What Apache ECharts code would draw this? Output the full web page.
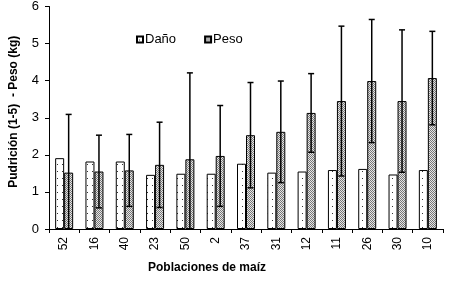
<!DOCTYPE html>
<html>
<head>
<meta charset="utf-8">
<script src="https://cdn.jsdelivr.net/npm/echarts@6/dist/echarts.min.js"></script>
<style>
  html, body { margin: 0; padding: 0; background: #fff; }
  #chart { width: 450px; height: 286px; }
</style>
</head>
<body>
<div id="chart"></div>
<script>
const categories = ['52', '16', '40', '23', '50', '2', '37', '31', '12', '11', '26', '30', '10'];
const dano = [1.91, 1.82, 1.82, 1.46, 1.49, 1.49, 1.76, 1.52, 1.55, 1.59, 1.62, 1.47, 1.59];
const peso = [1.52, 1.55, 1.58, 1.73, 1.88, 1.97, 2.53, 2.62, 3.13, 3.45, 3.99, 3.45, 4.07];
const pesoSd = [1.57, 0.98, 0.97, 1.15, 2.33, 1.36, 1.42, 1.37, 1.06, 2.02, 1.66, 1.92, 1.26];
const yTicks = [0, 1, 2, 3, 4, 5, 6];

const font = 'Arial, "Liberation Sans", sans-serif';
const barW = 9;

// fill patterns
function danoPattern() {
  const c = document.createElement('canvas');
  c.width = 5; c.height = 7;
  const g = c.getContext('2d');
  g.fillStyle = '#fff';
  g.fillRect(0, 0, 5, 7);
  g.fillStyle = '#333';
  g.fillRect(2, 3, 1, 1);
  return c;
}
function pesoPattern() {
  const c = document.createElement('canvas');
  c.width = 2; c.height = 2;
  const g = c.getContext('2d');
  g.fillStyle = '#e6e6e6';
  g.fillRect(0, 0, 2, 2);
  g.fillStyle = '#777';
  g.fillRect(0, 0, 1, 1);
  g.fillRect(1, 1, 1, 1);
  return c;
}

const errData = peso.map((v, i) => [i, Math.max(0, v - pesoSd[i]), v + pesoSd[i]]);

const myChart = echarts.init(document.getElementById('chart'));
myChart.setOption({
  animation: false,
  grid: { left: 47, right: 7, top: 6, bottom: 57 },
  legend: {
    left: 131,
    top: 28,
    icon: 'rect',
    itemWidth: 6,
    itemHeight: 6,
    itemGap: 28,
    data: ['Daño', 'Peso'],
    textStyle: { fontFamily: font, fontSize: 13, color: '#000', padding: [0, 0, 0, -3] }
  },
  xAxis: {
    type: 'category',
    data: categories,
    axisLine: { lineStyle: { color: '#000', width: 1 } },
    axisTick: { show: true, length: 4, lineStyle: { color: '#000' } },
    axisLabel: { rotate: 90, color: '#000', fontFamily: font, fontSize: 12, margin: 8 }
  },
  yAxis: {
    type: 'value',
    min: yTicks[0],
    max: yTicks[yTicks.length - 1],
    interval: 1,
    splitLine: { show: false },
    axisLine: { show: true, lineStyle: { color: '#000', width: 1 } },
    axisTick: { show: true, length: 4, lineStyle: { color: '#000' } },
    axisLabel: { color: '#000', fontFamily: font, fontSize: 13, margin: 10 },
    name: 'Pudrición (1-5)  - Peso (kg)',
    nameLocation: 'middle',
    nameGap: 29,
    nameTextStyle: { fontFamily: font, fontSize: 12, fontWeight: 'bold', color: '#000', padding: [0, 0, 0, 12] }
  },
  graphic: [{
    type: 'text',
    left: 148,
    top: 262,
    style: { text: 'Poblaciones de maíz', font: 'bold 12px ' + font, fill: '#000' }
  }],
  series: [
    {
      name: 'Daño',
      type: 'bar',
      barWidth: barW,
      barGap: '0%',
      itemStyle: { color: { image: danoPattern(), repeat: 'repeat' }, borderColor: '#000', borderWidth: 1 },
      data: dano
    },
    {
      name: 'Peso',
      type: 'bar',
      barWidth: barW,
      itemStyle: { color: { image: pesoPattern(), repeat: 'repeat' }, borderColor: '#000', borderWidth: 1 },
      data: peso
    },
    {
      type: 'custom',
      name: 'err',
      z: 5,
      renderItem: function (params, api) {
        const x = api.coord([api.value(0), 0])[0] + barW / 2;
        const lo = api.value(1);
        const yLo = api.coord([0, lo])[1];
        const yHi = api.coord([0, api.value(2)])[1];
        const cap = 3;
        const st = { stroke: '#000', lineWidth: 1.5 };
        const kids = [
          { type: 'line', shape: { x1: x, y1: yLo, x2: x, y2: yHi }, style: st },
          { type: 'line', shape: { x1: x - cap, y1: yHi, x2: x + cap, y2: yHi }, style: st }
        ];
        if (lo > 0) {
          kids.push({ type: 'line', shape: { x1: x - cap, y1: yLo, x2: x + cap, y2: yLo }, style: st });
        }
        return { type: 'group', children: kids };
      },
      data: errData
    }
  ]
});
</script>
</body>
</html>
